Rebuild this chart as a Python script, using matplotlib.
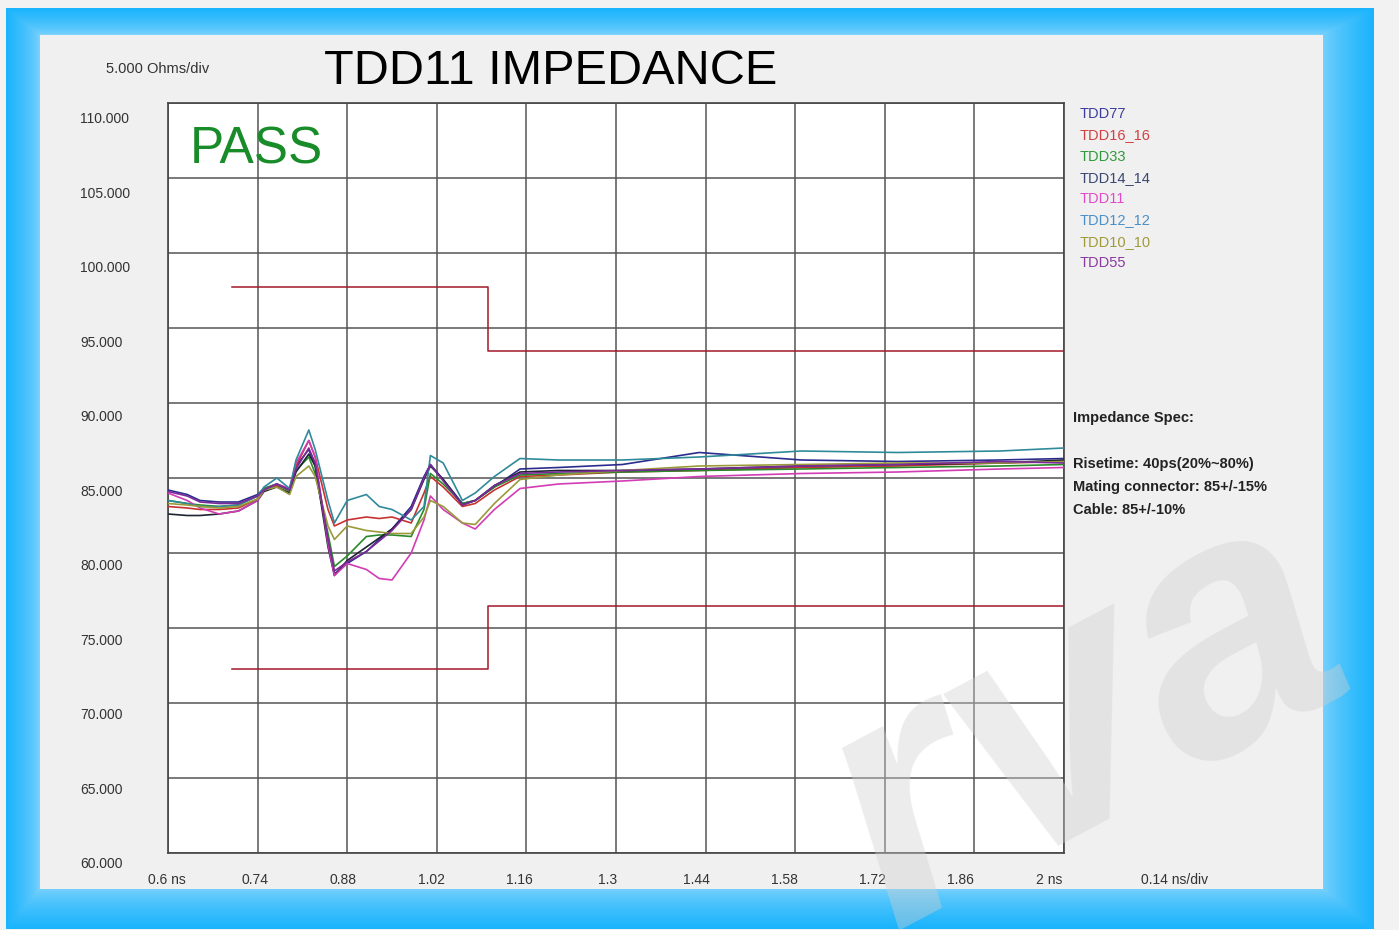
import numpy as np
import matplotlib
matplotlib.use("Agg")
import matplotlib.pyplot as plt
from matplotlib.patches import Rectangle

plt.rcParams['font.family'] = ['Liberation Sans', 'DejaVu Sans']

t_ns = [0.60, 0.63, 0.65, 0.68, 0.71, 0.74, 0.75, 0.77, 0.79, 0.80, 0.82,
        0.83, 0.85, 0.86, 0.88, 0.91, 0.93, 0.95, 0.98, 1.00, 1.01, 1.03,
        1.06, 1.08, 1.11, 1.15, 1.21, 1.31, 1.43, 1.59, 1.74, 1.90, 2.00]

tdd77 = [84.2, 83.9, 83.5, 83.4, 83.4, 83.9, 84.3, 84.6, 84.2, 85.8, 86.9,
         85.8, 80.9, 78.6, 79.3, 80.1, 80.9, 81.6, 83.1, 85.1, 85.9, 84.9,
         83.3, 83.5, 84.4, 85.6, 85.7, 85.9, 86.7, 86.2, 86.1, 86.2, 86.3]
tdd16_16 = [83.1, 83.0, 82.9, 82.9, 83.0, 83.6, 84.2, 84.5, 84.2, 85.8, 87.5,
            86.4, 82.9, 81.8, 82.2, 82.4, 82.3, 82.4, 82.0, 84.0, 85.1, 84.4,
            83.1, 83.3, 84.2, 85.1, 85.2, 85.4, 85.5, 85.7, 85.8, 86.0, 86.1]
tdd33 = [83.5, 83.3, 83.2, 83.1, 83.2, 83.8, 84.3, 84.6, 84.1, 85.5, 86.4,
         85.3, 81.3, 79.1, 79.8, 81.1, 81.2, 81.2, 81.1, 82.9, 85.3, 84.6,
         83.3, 83.5, 84.4, 85.2, 85.3, 85.4, 85.5, 85.6, 85.7, 85.8, 85.9]
tdd14_14 = [82.6, 82.5, 82.5, 82.6, 82.8, 83.5, 84.1, 84.4, 84.0, 85.4, 86.6,
            85.8, 80.4, 78.5, 79.5, 80.4, 81.0, 81.6, 82.9, 84.9, 85.8, 84.9,
            83.2, 83.5, 84.5, 85.4, 85.5, 85.5, 85.6, 85.8, 85.9, 86.0, 86.2]
tdd11 = [84.0, 83.5, 83.0, 82.6, 82.8, 83.5, 84.2, 84.6, 84.3, 86.0, 87.5,
         86.4, 80.6, 78.5, 79.3, 78.9, 78.3, 78.2, 80.0, 82.2, 83.8, 82.9,
         82.0, 81.6, 82.9, 84.3, 84.6, 84.8, 85.1, 85.3, 85.4, 85.6, 85.7]
tdd12_12 = [83.5, 83.3, 83.1, 83.1, 83.2, 83.8, 84.4, 85.0, 84.3, 86.2, 88.2,
            86.9, 83.5, 82.0, 83.5, 83.9, 83.1, 82.9, 82.2, 83.1, 86.5, 86.0,
            83.5, 84.0, 85.1, 86.3, 86.2, 86.2, 86.4, 86.8, 86.7, 86.8, 87.0]
tdd10_10 = [83.3, 83.2, 83.1, 83.0, 83.1, 83.6, 84.2, 84.4, 83.9, 85.1, 85.8,
            85.1, 81.8, 80.9, 81.8, 81.5, 81.4, 81.3, 81.3, 82.4, 83.5, 83.1,
            82.0, 81.9, 83.3, 84.9, 85.2, 85.5, 85.8, 85.9, 86.0, 86.0, 86.1]
tdd55 = [84.1, 83.8, 83.4, 83.3, 83.3, 83.8, 84.2, 84.6, 84.2, 85.6, 87.0,
         86.0, 80.9, 78.8, 79.4, 80.1, 80.8, 81.5, 82.9, 85.0, 85.9, 84.8,
         83.2, 83.5, 84.5, 85.3, 85.4, 85.5, 85.6, 85.8, 85.9, 86.1, 86.0]

names = ['TDD77', 'TDD16_16', 'TDD33', 'TDD14_14', 'TDD11', 'TDD12_12', 'TDD10_10', 'TDD55']
traces = [tdd77, tdd16_16, tdd33, tdd14_14, tdd11, tdd12_12, tdd10_10, tdd55]
colors = ['#2c2c8c', '#c83232', '#2a8a2a', '#1e2432', '#d23cb4', '#2f8a9a', '#9a9a3a', '#7a2a9a']
label_colors = ['#3c3c9c', '#d04040', '#30993a', '#3a4870', '#e04ac8', '#4a90c8', '#a09a38', '#8a3aa0']

# spec mask: 85 +/-15% for the connector, then 85 +/-10% for the cable
mask_t = [0.70, 1.10, 1.10, 2.00]
mask_hi = [97.75, 97.75, 93.5, 93.5]
mask_lo = [72.25, 72.25, 76.5, 76.5]

y_ticks = [60, 65, 70, 75, 80, 85, 90, 95, 100, 105, 110]
x_ticks = [0.6, 0.74, 0.88, 1.02, 1.16, 1.3, 1.44, 1.58, 1.72, 1.86, 2.0]
x_labels = ['0.6 ns', '0.74', '0.88', '1.02', '1.16', '1.3', '1.44', '1.58', '1.72', '1.86', '2 ns']

spec_lines = ['Impedance Spec:', '', 'Risetime: 40ps(20%~80%)',
              'Mating connector: 85+/-15%', 'Cable: 85+/-10%']

W, H = 1399, 930
fig = plt.figure(figsize=(W / 100, H / 100), dpi=100)
fig.patch.set_facecolor('#f2f2f2')

# blue frame with a soft gradient
ys, xs = np.mgrid[0:H, 0:W].astype(float)
tl = (39 - xs) / 33.0
tr = (xs - 1322) / 51.0
tt = (35 - ys) / 26.0
tb = (ys - 888) / 40.0
tg = np.clip(np.maximum.reduce([tl, tr, tt, tb]), 0, 1) ** 0.7
light = np.array([125, 210, 252]) / 255.0
deep = np.array([26, 180, 252]) / 255.0
img = light[None, None, :] * (1 - tg[..., None]) + deep[None, None, :] * tg[..., None]
outside = (xs < 6) | (xs > 1373) | (ys < 9) | (ys > 928)
img[outside] = np.array([242, 242, 242]) / 255.0
bg = fig.add_axes([0, 0, 1, 1])
bg.imshow(img, aspect='auto', interpolation='nearest')
bg.axis('off')
bg.add_patch(Rectangle((39, 35), 1322 - 39, 888 - 35, facecolor='#f0f0f0', edgecolor='none'))

ax = fig.add_axes([168 / W, 1 - 853 / H, (1064 - 168) / W, (853 - 103) / H])
ax.set_facecolor('white')
ax.set_xlim(0.6, 2.0)
ax.set_ylim(60, 110)
ax.set_xticks(x_ticks)
ax.set_yticks(y_ticks)
ax.tick_params(length=0, labelbottom=False, labelleft=False)
ax.grid(True, color='#555555', linewidth=1.1)
for s in ax.spines.values():
    s.set_color('#444444')
    s.set_linewidth(1.2)

ax.plot(mask_t, mask_hi, color='#a3172b', linewidth=1.1, zorder=3)
ax.plot(mask_t, mask_lo, color='#a3172b', linewidth=1.1, zorder=3)

for vals, c in zip(traces, colors):
    ax.plot(t_ns, vals, color=c, linewidth=1.2, zorder=4)

for v in y_ticks:
    ax.annotate('%.3f' % v, xy=(0, v), xycoords=('axes fraction', 'data'),
                xytext=(-88, -11 - (v - 60) * 0.1), textcoords='offset pixels',
                ha='left', va='center', fontsize=10, color='#333333')
for i, (v, lab) in enumerate(zip(x_ticks, x_labels)):
    ax.annotate(lab, xy=(v, 0), xycoords=('data', 'axes fraction'),
                xytext=(-1 - 1.4 * i, -27), textcoords='offset pixels',
                ha='center', va='center', fontsize=10, color='#333333')
ax.annotate('0.14 ns/div', xy=(1, 0), xycoords='axes fraction',
            xytext=(111, -27), textcoords='offset pixels',
            ha='center', va='center', fontsize=10, color='#333333')

ax.text(0.024, 0.937, 'PASS', transform=ax.transAxes, fontsize=37,
        color='#198c2a', ha='left', va='center', zorder=5)

fig.text(158 / W, 1 - 69 / H, '5.000 Ohms/div', fontsize=10.5, color='#333333',
         ha='center', va='center')
fig.text(551 / W, 1 - 71 / H, 'TDD11 IMPEDANCE', fontsize=35, color='black',
         ha='center', va='center')

for i, (n, c) in enumerate(zip(names, label_colors)):
    fig.text(1080 / W, 1 - (114 + i * 21.3) / H, n, fontsize=10.5, color=c,
             ha='left', va='center')

for i, line in enumerate(spec_lines):
    if line:
        fig.text(1073 / W, 1 - (418 + i * 23) / H, line, fontsize=10.5,
                 fontweight='bold', color='#222222', ha='left', va='center')

# faint watermark
fig.text(1085 / W, 1 - 725 / H, 'rva', fontsize=255, fontweight='bold', style='italic',
         color='#d0d0d0', alpha=0.4, rotation=28, ha='center', va='center', zorder=10)

fig.savefig('out.png', dpi=100)
